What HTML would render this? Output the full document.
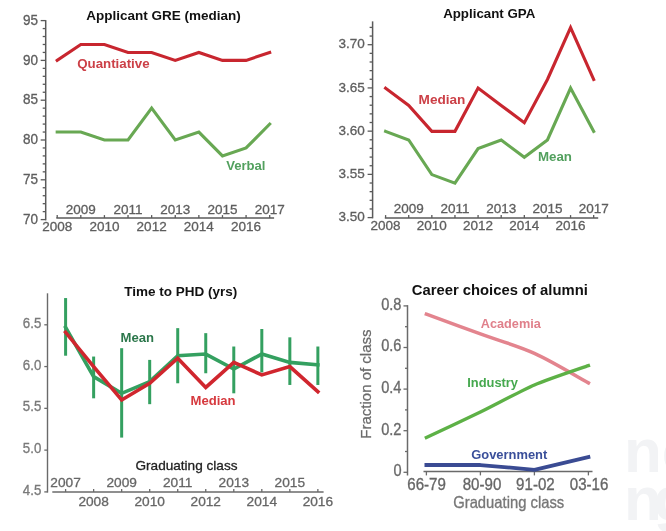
<!DOCTYPE html>
<html><head><meta charset="utf-8"><style>
html,body{margin:0;padding:0;background:#fff;}
svg{display:block;font-family:"Liberation Sans", sans-serif;will-change:transform;}
</style></head><body>
<svg width="666" height="531" viewBox="0 0 666 531">
<rect width="666" height="531" fill="#fff"/>
<line x1="45.70" y1="20.10" x2="45.70" y2="220.35" stroke="#5a5a5a" stroke-width="1.5" />
<line x1="40.70" y1="219.60" x2="45.70" y2="219.60" stroke="#5a5a5a" stroke-width="1.3" />
<text transform="translate(38.00,223.70) scale(1,1.07)" font-size="13.5" fill="#5e5e5e" font-weight="normal" text-anchor="end" stroke="#5e5e5e" stroke-width="0.3" >70</text>
<line x1="42.70" y1="211.64" x2="45.70" y2="211.64" stroke="#5a5a5a" stroke-width="1.3" />
<line x1="42.70" y1="203.68" x2="45.70" y2="203.68" stroke="#5a5a5a" stroke-width="1.3" />
<line x1="42.70" y1="195.72" x2="45.70" y2="195.72" stroke="#5a5a5a" stroke-width="1.3" />
<line x1="42.70" y1="187.76" x2="45.70" y2="187.76" stroke="#5a5a5a" stroke-width="1.3" />
<line x1="40.70" y1="179.80" x2="45.70" y2="179.80" stroke="#5a5a5a" stroke-width="1.3" />
<text transform="translate(38.00,183.90) scale(1,1.07)" font-size="13.5" fill="#5e5e5e" font-weight="normal" text-anchor="end" stroke="#5e5e5e" stroke-width="0.3" >75</text>
<line x1="42.70" y1="171.84" x2="45.70" y2="171.84" stroke="#5a5a5a" stroke-width="1.3" />
<line x1="42.70" y1="163.88" x2="45.70" y2="163.88" stroke="#5a5a5a" stroke-width="1.3" />
<line x1="42.70" y1="155.92" x2="45.70" y2="155.92" stroke="#5a5a5a" stroke-width="1.3" />
<line x1="42.70" y1="147.96" x2="45.70" y2="147.96" stroke="#5a5a5a" stroke-width="1.3" />
<line x1="40.70" y1="140.00" x2="45.70" y2="140.00" stroke="#5a5a5a" stroke-width="1.3" />
<text transform="translate(38.00,144.10) scale(1,1.07)" font-size="13.5" fill="#5e5e5e" font-weight="normal" text-anchor="end" stroke="#5e5e5e" stroke-width="0.3" >80</text>
<line x1="42.70" y1="132.04" x2="45.70" y2="132.04" stroke="#5a5a5a" stroke-width="1.3" />
<line x1="42.70" y1="124.08" x2="45.70" y2="124.08" stroke="#5a5a5a" stroke-width="1.3" />
<line x1="42.70" y1="116.12" x2="45.70" y2="116.12" stroke="#5a5a5a" stroke-width="1.3" />
<line x1="42.70" y1="108.16" x2="45.70" y2="108.16" stroke="#5a5a5a" stroke-width="1.3" />
<line x1="40.70" y1="100.20" x2="45.70" y2="100.20" stroke="#5a5a5a" stroke-width="1.3" />
<text transform="translate(38.00,104.30) scale(1,1.07)" font-size="13.5" fill="#5e5e5e" font-weight="normal" text-anchor="end" stroke="#5e5e5e" stroke-width="0.3" >85</text>
<line x1="42.70" y1="92.24" x2="45.70" y2="92.24" stroke="#5a5a5a" stroke-width="1.3" />
<line x1="42.70" y1="84.28" x2="45.70" y2="84.28" stroke="#5a5a5a" stroke-width="1.3" />
<line x1="42.70" y1="76.32" x2="45.70" y2="76.32" stroke="#5a5a5a" stroke-width="1.3" />
<line x1="42.70" y1="68.36" x2="45.70" y2="68.36" stroke="#5a5a5a" stroke-width="1.3" />
<line x1="40.70" y1="60.40" x2="45.70" y2="60.40" stroke="#5a5a5a" stroke-width="1.3" />
<text transform="translate(38.00,64.50) scale(1,1.07)" font-size="13.5" fill="#5e5e5e" font-weight="normal" text-anchor="end" stroke="#5e5e5e" stroke-width="0.3" >90</text>
<line x1="42.70" y1="52.44" x2="45.70" y2="52.44" stroke="#5a5a5a" stroke-width="1.3" />
<line x1="42.70" y1="44.48" x2="45.70" y2="44.48" stroke="#5a5a5a" stroke-width="1.3" />
<line x1="42.70" y1="36.52" x2="45.70" y2="36.52" stroke="#5a5a5a" stroke-width="1.3" />
<line x1="42.70" y1="28.56" x2="45.70" y2="28.56" stroke="#5a5a5a" stroke-width="1.3" />
<line x1="40.70" y1="20.60" x2="45.70" y2="20.60" stroke="#5a5a5a" stroke-width="1.3" />
<text transform="translate(38.00,24.70) scale(1,1.07)" font-size="13.5" fill="#5e5e5e" font-weight="normal" text-anchor="end" stroke="#5e5e5e" stroke-width="0.3" >95</text>
<line x1="56.30" y1="217.90" x2="274.10" y2="217.90" stroke="#5a5a5a" stroke-width="1.5" />
<line x1="57.20" y1="215.10" x2="57.20" y2="217.90" stroke="#5a5a5a" stroke-width="1.3" />
<text x="57.20" y="230.80" font-size="13.5" fill="#5e5e5e" font-weight="normal" text-anchor="middle" stroke="#5e5e5e" stroke-width="0.3" >2008</text>
<line x1="80.81" y1="215.10" x2="80.81" y2="217.90" stroke="#5a5a5a" stroke-width="1.3" />
<text x="80.81" y="213.60" font-size="13.5" fill="#5e5e5e" font-weight="normal" text-anchor="middle" stroke="#5e5e5e" stroke-width="0.3" >2009</text>
<line x1="104.42" y1="215.10" x2="104.42" y2="217.90" stroke="#5a5a5a" stroke-width="1.3" />
<text x="104.42" y="230.80" font-size="13.5" fill="#5e5e5e" font-weight="normal" text-anchor="middle" stroke="#5e5e5e" stroke-width="0.3" >2010</text>
<line x1="128.03" y1="215.10" x2="128.03" y2="217.90" stroke="#5a5a5a" stroke-width="1.3" />
<text x="128.03" y="213.60" font-size="13.5" fill="#5e5e5e" font-weight="normal" text-anchor="middle" stroke="#5e5e5e" stroke-width="0.3" >2011</text>
<line x1="151.64" y1="215.10" x2="151.64" y2="217.90" stroke="#5a5a5a" stroke-width="1.3" />
<text x="151.64" y="230.80" font-size="13.5" fill="#5e5e5e" font-weight="normal" text-anchor="middle" stroke="#5e5e5e" stroke-width="0.3" >2012</text>
<line x1="175.25" y1="215.10" x2="175.25" y2="217.90" stroke="#5a5a5a" stroke-width="1.3" />
<text x="175.25" y="213.60" font-size="13.5" fill="#5e5e5e" font-weight="normal" text-anchor="middle" stroke="#5e5e5e" stroke-width="0.3" >2013</text>
<line x1="198.86" y1="215.10" x2="198.86" y2="217.90" stroke="#5a5a5a" stroke-width="1.3" />
<text x="198.86" y="230.80" font-size="13.5" fill="#5e5e5e" font-weight="normal" text-anchor="middle" stroke="#5e5e5e" stroke-width="0.3" >2014</text>
<line x1="222.47" y1="215.10" x2="222.47" y2="217.90" stroke="#5a5a5a" stroke-width="1.3" />
<text x="222.47" y="213.60" font-size="13.5" fill="#5e5e5e" font-weight="normal" text-anchor="middle" stroke="#5e5e5e" stroke-width="0.3" >2015</text>
<line x1="246.08" y1="215.10" x2="246.08" y2="217.90" stroke="#5a5a5a" stroke-width="1.3" />
<text x="246.08" y="230.80" font-size="13.5" fill="#5e5e5e" font-weight="normal" text-anchor="middle" stroke="#5e5e5e" stroke-width="0.3" >2016</text>
<line x1="269.69" y1="215.10" x2="269.69" y2="217.90" stroke="#5a5a5a" stroke-width="1.3" />
<text x="269.69" y="213.60" font-size="13.5" fill="#5e5e5e" font-weight="normal" text-anchor="middle" stroke="#5e5e5e" stroke-width="0.3" >2017</text>
<polyline points="57.20,60.40 80.81,44.48 104.42,44.48 128.03,52.44 151.64,52.44 175.25,60.40 198.86,52.44 222.47,60.40 246.08,60.40 269.69,52.44" fill="none" stroke="#c8262f" stroke-width="3.1" stroke-linecap="square" stroke-linejoin="miter"/>
<polyline points="57.20,132.04 80.81,132.04 104.42,140.00 128.03,140.00 151.64,108.16 175.25,140.00 198.86,132.04 222.47,155.92 246.08,147.96 269.69,124.08" fill="none" stroke="#68a853" stroke-width="3.1" stroke-linecap="square" stroke-linejoin="miter"/>
<text x="77.20" y="67.60" font-size="13.3" fill="#cc4047" font-weight="bold" text-anchor="start" >Quantiative</text>
<text x="226.20" y="170.10" font-size="13.1" fill="#52a05e" font-weight="bold" text-anchor="start" >Verbal</text>
<text x="163.60" y="20.00" font-size="13.5" fill="#111" font-weight="bold" text-anchor="middle" >Applicant GRE (median)</text>
<line x1="372.60" y1="21.36" x2="372.60" y2="218.35" stroke="#5a5a5a" stroke-width="1.5" />
<line x1="367.60" y1="217.60" x2="372.60" y2="217.60" stroke="#5a5a5a" stroke-width="1.3" />
<text x="364.80" y="221.20" font-size="13.5" fill="#5e5e5e" font-weight="normal" text-anchor="end" stroke="#5e5e5e" stroke-width="0.3" >3.50</text>
<line x1="369.60" y1="208.96" x2="372.60" y2="208.96" stroke="#5a5a5a" stroke-width="1.3" />
<line x1="369.60" y1="200.31" x2="372.60" y2="200.31" stroke="#5a5a5a" stroke-width="1.3" />
<line x1="369.60" y1="191.67" x2="372.60" y2="191.67" stroke="#5a5a5a" stroke-width="1.3" />
<line x1="369.60" y1="183.02" x2="372.60" y2="183.02" stroke="#5a5a5a" stroke-width="1.3" />
<line x1="367.60" y1="174.38" x2="372.60" y2="174.38" stroke="#5a5a5a" stroke-width="1.3" />
<text x="364.80" y="177.98" font-size="13.5" fill="#5e5e5e" font-weight="normal" text-anchor="end" stroke="#5e5e5e" stroke-width="0.3" >3.55</text>
<line x1="369.60" y1="165.73" x2="372.60" y2="165.73" stroke="#5a5a5a" stroke-width="1.3" />
<line x1="369.60" y1="157.09" x2="372.60" y2="157.09" stroke="#5a5a5a" stroke-width="1.3" />
<line x1="369.60" y1="148.44" x2="372.60" y2="148.44" stroke="#5a5a5a" stroke-width="1.3" />
<line x1="369.60" y1="139.80" x2="372.60" y2="139.80" stroke="#5a5a5a" stroke-width="1.3" />
<line x1="367.60" y1="131.15" x2="372.60" y2="131.15" stroke="#5a5a5a" stroke-width="1.3" />
<text x="364.80" y="134.75" font-size="13.5" fill="#5e5e5e" font-weight="normal" text-anchor="end" stroke="#5e5e5e" stroke-width="0.3" >3.60</text>
<line x1="369.60" y1="122.51" x2="372.60" y2="122.51" stroke="#5a5a5a" stroke-width="1.3" />
<line x1="369.60" y1="113.86" x2="372.60" y2="113.86" stroke="#5a5a5a" stroke-width="1.3" />
<line x1="369.60" y1="105.22" x2="372.60" y2="105.22" stroke="#5a5a5a" stroke-width="1.3" />
<line x1="369.60" y1="96.57" x2="372.60" y2="96.57" stroke="#5a5a5a" stroke-width="1.3" />
<line x1="367.60" y1="87.93" x2="372.60" y2="87.93" stroke="#5a5a5a" stroke-width="1.3" />
<text x="364.80" y="91.53" font-size="13.5" fill="#5e5e5e" font-weight="normal" text-anchor="end" stroke="#5e5e5e" stroke-width="0.3" >3.65</text>
<line x1="369.60" y1="79.28" x2="372.60" y2="79.28" stroke="#5a5a5a" stroke-width="1.3" />
<line x1="369.60" y1="70.64" x2="372.60" y2="70.64" stroke="#5a5a5a" stroke-width="1.3" />
<line x1="369.60" y1="61.99" x2="372.60" y2="61.99" stroke="#5a5a5a" stroke-width="1.3" />
<line x1="369.60" y1="53.35" x2="372.60" y2="53.35" stroke="#5a5a5a" stroke-width="1.3" />
<line x1="367.60" y1="44.70" x2="372.60" y2="44.70" stroke="#5a5a5a" stroke-width="1.3" />
<text x="364.80" y="48.30" font-size="13.5" fill="#5e5e5e" font-weight="normal" text-anchor="end" stroke="#5e5e5e" stroke-width="0.3" >3.70</text>
<line x1="369.60" y1="36.06" x2="372.60" y2="36.06" stroke="#5a5a5a" stroke-width="1.3" />
<line x1="369.60" y1="27.41" x2="372.60" y2="27.41" stroke="#5a5a5a" stroke-width="1.3" />
<line x1="384.80" y1="217.90" x2="598.20" y2="217.90" stroke="#5a5a5a" stroke-width="1.5" />
<line x1="385.60" y1="215.10" x2="385.60" y2="217.90" stroke="#5a5a5a" stroke-width="1.3" />
<text x="385.60" y="230.20" font-size="13.5" fill="#5e5e5e" font-weight="normal" text-anchor="middle" stroke="#5e5e5e" stroke-width="0.3" >2008</text>
<line x1="408.72" y1="215.10" x2="408.72" y2="217.90" stroke="#5a5a5a" stroke-width="1.3" />
<text x="408.72" y="213.20" font-size="13.5" fill="#5e5e5e" font-weight="normal" text-anchor="middle" stroke="#5e5e5e" stroke-width="0.3" >2009</text>
<line x1="431.84" y1="215.10" x2="431.84" y2="217.90" stroke="#5a5a5a" stroke-width="1.3" />
<text x="431.84" y="230.20" font-size="13.5" fill="#5e5e5e" font-weight="normal" text-anchor="middle" stroke="#5e5e5e" stroke-width="0.3" >2010</text>
<line x1="454.96" y1="215.10" x2="454.96" y2="217.90" stroke="#5a5a5a" stroke-width="1.3" />
<text x="454.96" y="213.20" font-size="13.5" fill="#5e5e5e" font-weight="normal" text-anchor="middle" stroke="#5e5e5e" stroke-width="0.3" >2011</text>
<line x1="478.08" y1="215.10" x2="478.08" y2="217.90" stroke="#5a5a5a" stroke-width="1.3" />
<text x="478.08" y="230.20" font-size="13.5" fill="#5e5e5e" font-weight="normal" text-anchor="middle" stroke="#5e5e5e" stroke-width="0.3" >2012</text>
<line x1="501.20" y1="215.10" x2="501.20" y2="217.90" stroke="#5a5a5a" stroke-width="1.3" />
<text x="501.20" y="213.20" font-size="13.5" fill="#5e5e5e" font-weight="normal" text-anchor="middle" stroke="#5e5e5e" stroke-width="0.3" >2013</text>
<line x1="524.32" y1="215.10" x2="524.32" y2="217.90" stroke="#5a5a5a" stroke-width="1.3" />
<text x="524.32" y="230.20" font-size="13.5" fill="#5e5e5e" font-weight="normal" text-anchor="middle" stroke="#5e5e5e" stroke-width="0.3" >2014</text>
<line x1="547.44" y1="215.10" x2="547.44" y2="217.90" stroke="#5a5a5a" stroke-width="1.3" />
<text x="547.44" y="213.20" font-size="13.5" fill="#5e5e5e" font-weight="normal" text-anchor="middle" stroke="#5e5e5e" stroke-width="0.3" >2015</text>
<line x1="570.56" y1="215.10" x2="570.56" y2="217.90" stroke="#5a5a5a" stroke-width="1.3" />
<text x="570.56" y="230.20" font-size="13.5" fill="#5e5e5e" font-weight="normal" text-anchor="middle" stroke="#5e5e5e" stroke-width="0.3" >2016</text>
<line x1="593.68" y1="215.10" x2="593.68" y2="217.90" stroke="#5a5a5a" stroke-width="1.3" />
<text x="593.68" y="213.20" font-size="13.5" fill="#5e5e5e" font-weight="normal" text-anchor="middle" stroke="#5e5e5e" stroke-width="0.3" >2017</text>
<polyline points="385.60,88.13 408.72,105.42 431.84,131.35 454.96,131.35 478.08,88.13 501.20,105.42 524.32,122.71 547.44,79.48 570.56,27.61 593.68,79.48" fill="none" stroke="#c8262f" stroke-width="3.1" stroke-linecap="square" stroke-linejoin="miter"/>
<polyline points="385.60,131.35 408.72,140.00 431.84,174.58 454.96,183.22 478.08,148.64 501.20,140.00 524.32,157.29 547.44,140.00 570.56,88.13 593.68,131.35" fill="none" stroke="#68a853" stroke-width="3.1" stroke-linecap="square" stroke-linejoin="miter"/>
<text x="418.60" y="104.00" font-size="13.6" fill="#cc4047" font-weight="bold" text-anchor="start" >Median</text>
<text x="538.00" y="161.00" font-size="13.3" fill="#52a05e" font-weight="bold" text-anchor="start" >Mean</text>
<text x="489.20" y="18.00" font-size="13.3" fill="#111" font-weight="bold" text-anchor="middle" >Applicant GPA</text>
<line x1="47.50" y1="293.30" x2="47.50" y2="492.60" stroke="#6a6a6a" stroke-width="1.4" />
<line x1="44.30" y1="491.90" x2="47.50" y2="491.90" stroke="#6a6a6a" stroke-width="1.3" />
<text transform="translate(41.30,494.90) scale(1,1.15)" font-size="13.3" fill="#7a7a7a" font-weight="normal" text-anchor="end" stroke="#7a7a7a" stroke-width="0.3" >4.5</text>
<line x1="44.30" y1="450.12" x2="47.50" y2="450.12" stroke="#6a6a6a" stroke-width="1.3" />
<text transform="translate(41.30,453.12) scale(1,1.15)" font-size="13.3" fill="#7a7a7a" font-weight="normal" text-anchor="end" stroke="#7a7a7a" stroke-width="0.3" >5.0</text>
<line x1="44.30" y1="408.35" x2="47.50" y2="408.35" stroke="#6a6a6a" stroke-width="1.3" />
<text transform="translate(41.30,411.35) scale(1,1.15)" font-size="13.3" fill="#7a7a7a" font-weight="normal" text-anchor="end" stroke="#7a7a7a" stroke-width="0.3" >5.5</text>
<line x1="44.30" y1="366.57" x2="47.50" y2="366.57" stroke="#6a6a6a" stroke-width="1.3" />
<text transform="translate(41.30,369.57) scale(1,1.15)" font-size="13.3" fill="#7a7a7a" font-weight="normal" text-anchor="end" stroke="#7a7a7a" stroke-width="0.3" >6.0</text>
<line x1="44.30" y1="324.80" x2="47.50" y2="324.80" stroke="#6a6a6a" stroke-width="1.3" />
<text transform="translate(41.30,327.80) scale(1,1.15)" font-size="13.3" fill="#7a7a7a" font-weight="normal" text-anchor="end" stroke="#7a7a7a" stroke-width="0.3" >6.5</text>
<line x1="52.30" y1="492.00" x2="323.60" y2="492.00" stroke="#6a6a6a" stroke-width="1.4" />
<line x1="65.60" y1="489.00" x2="65.60" y2="492.00" stroke="#6a6a6a" stroke-width="1.3" />
<text x="65.60" y="486.80" font-size="13.7" fill="#666" font-weight="normal" text-anchor="middle" stroke="#666" stroke-width="0.3" >2007</text>
<line x1="93.63" y1="489.00" x2="93.63" y2="492.00" stroke="#6a6a6a" stroke-width="1.3" />
<text x="93.63" y="506.40" font-size="13.7" fill="#666" font-weight="normal" text-anchor="middle" stroke="#666" stroke-width="0.3" >2008</text>
<line x1="121.66" y1="489.00" x2="121.66" y2="492.00" stroke="#6a6a6a" stroke-width="1.3" />
<text x="121.66" y="486.80" font-size="13.7" fill="#666" font-weight="normal" text-anchor="middle" stroke="#666" stroke-width="0.3" >2009</text>
<line x1="149.69" y1="489.00" x2="149.69" y2="492.00" stroke="#6a6a6a" stroke-width="1.3" />
<text x="149.69" y="506.40" font-size="13.7" fill="#666" font-weight="normal" text-anchor="middle" stroke="#666" stroke-width="0.3" >2010</text>
<line x1="177.72" y1="489.00" x2="177.72" y2="492.00" stroke="#6a6a6a" stroke-width="1.3" />
<text x="177.72" y="486.80" font-size="13.7" fill="#666" font-weight="normal" text-anchor="middle" stroke="#666" stroke-width="0.3" >2011</text>
<line x1="205.75" y1="489.00" x2="205.75" y2="492.00" stroke="#6a6a6a" stroke-width="1.3" />
<text x="205.75" y="506.40" font-size="13.7" fill="#666" font-weight="normal" text-anchor="middle" stroke="#666" stroke-width="0.3" >2012</text>
<line x1="233.78" y1="489.00" x2="233.78" y2="492.00" stroke="#6a6a6a" stroke-width="1.3" />
<text x="233.78" y="486.80" font-size="13.7" fill="#666" font-weight="normal" text-anchor="middle" stroke="#666" stroke-width="0.3" >2013</text>
<line x1="261.81" y1="489.00" x2="261.81" y2="492.00" stroke="#6a6a6a" stroke-width="1.3" />
<text x="261.81" y="506.40" font-size="13.7" fill="#666" font-weight="normal" text-anchor="middle" stroke="#666" stroke-width="0.3" >2014</text>
<line x1="289.84" y1="489.00" x2="289.84" y2="492.00" stroke="#6a6a6a" stroke-width="1.3" />
<text x="289.84" y="486.80" font-size="13.7" fill="#666" font-weight="normal" text-anchor="middle" stroke="#666" stroke-width="0.3" >2015</text>
<line x1="317.87" y1="489.00" x2="317.87" y2="492.00" stroke="#6a6a6a" stroke-width="1.3" />
<text x="317.87" y="506.40" font-size="13.7" fill="#666" font-weight="normal" text-anchor="middle" stroke="#666" stroke-width="0.3" >2016</text>
<text x="186.50" y="469.60" font-size="13.6" fill="#222" font-weight="normal" text-anchor="middle" stroke="#222" stroke-width="0.3" >Graduating class</text>
<line x1="65.60" y1="298.06" x2="65.60" y2="355.71" stroke="#34a060" stroke-width="3.0" />
<line x1="93.63" y1="356.55" x2="93.63" y2="398.32" stroke="#34a060" stroke-width="3.0" />
<line x1="121.66" y1="348.19" x2="121.66" y2="437.59" stroke="#34a060" stroke-width="3.0" />
<line x1="149.69" y1="359.89" x2="149.69" y2="404.17" stroke="#34a060" stroke-width="3.0" />
<line x1="177.72" y1="328.14" x2="177.72" y2="383.28" stroke="#34a060" stroke-width="3.0" />
<line x1="205.75" y1="333.15" x2="205.75" y2="373.26" stroke="#34a060" stroke-width="3.0" />
<line x1="233.78" y1="346.52" x2="233.78" y2="393.31" stroke="#34a060" stroke-width="3.0" />
<line x1="261.81" y1="328.98" x2="261.81" y2="372.42" stroke="#34a060" stroke-width="3.0" />
<line x1="289.84" y1="337.33" x2="289.84" y2="384.96" stroke="#34a060" stroke-width="3.0" />
<line x1="317.87" y1="346.52" x2="317.87" y2="384.96" stroke="#34a060" stroke-width="3.0" />
<polyline points="65.60,327.31 93.63,376.60 121.66,393.31 149.69,381.61 177.72,355.71 205.75,354.04 233.78,369.08 261.81,354.04 289.84,362.40 317.87,364.90" fill="none" stroke="#34a060" stroke-width="3.6" stroke-linecap="square" stroke-linejoin="miter"/>
<polyline points="65.60,332.32 93.63,366.57 121.66,400.00 149.69,383.28 177.72,358.22 205.75,387.46 233.78,362.40 261.81,374.93 289.84,366.57 317.87,391.64" fill="none" stroke="#d0262e" stroke-width="3.6" stroke-linecap="square" stroke-linejoin="miter"/>
<text x="120.60" y="341.70" font-size="13.1" fill="#2c774b" font-weight="bold" text-anchor="start" >Mean</text>
<text x="190.50" y="405.00" font-size="13.1" fill="#d6393e" font-weight="bold" text-anchor="start" >Median</text>
<text x="180.70" y="296.00" font-size="13.5" fill="#111" font-weight="bold" text-anchor="middle" >Time to PHD (yrs)</text>
<line x1="407.50" y1="305.15" x2="407.50" y2="475.50" stroke="#6a6a6a" stroke-width="1.5" />
<line x1="403.50" y1="472.30" x2="407.50" y2="472.30" stroke="#6a6a6a" stroke-width="1.3" />
<text transform="translate(401.50,476.10) scale(1,1.12)" font-size="14.6" fill="#6a6a6a" font-weight="normal" text-anchor="end" stroke="#6a6a6a" stroke-width="0.3" >0</text>
<line x1="405.00" y1="451.50" x2="407.50" y2="451.50" stroke="#6a6a6a" stroke-width="1.3" />
<line x1="403.50" y1="430.70" x2="407.50" y2="430.70" stroke="#6a6a6a" stroke-width="1.3" />
<text transform="translate(401.50,434.50) scale(1,1.12)" font-size="14.6" fill="#6a6a6a" font-weight="normal" text-anchor="end" stroke="#6a6a6a" stroke-width="0.3" >0.2</text>
<line x1="405.00" y1="409.90" x2="407.50" y2="409.90" stroke="#6a6a6a" stroke-width="1.3" />
<line x1="403.50" y1="389.10" x2="407.50" y2="389.10" stroke="#6a6a6a" stroke-width="1.3" />
<text transform="translate(401.50,392.90) scale(1,1.12)" font-size="14.6" fill="#6a6a6a" font-weight="normal" text-anchor="end" stroke="#6a6a6a" stroke-width="0.3" >0.4</text>
<line x1="405.00" y1="368.30" x2="407.50" y2="368.30" stroke="#6a6a6a" stroke-width="1.3" />
<line x1="403.50" y1="347.50" x2="407.50" y2="347.50" stroke="#6a6a6a" stroke-width="1.3" />
<text transform="translate(401.50,351.30) scale(1,1.12)" font-size="14.6" fill="#6a6a6a" font-weight="normal" text-anchor="end" stroke="#6a6a6a" stroke-width="0.3" >0.6</text>
<line x1="405.00" y1="326.70" x2="407.50" y2="326.70" stroke="#6a6a6a" stroke-width="1.3" />
<line x1="403.50" y1="305.90" x2="407.50" y2="305.90" stroke="#6a6a6a" stroke-width="1.3" />
<text transform="translate(401.50,309.70) scale(1,1.12)" font-size="14.6" fill="#6a6a6a" font-weight="normal" text-anchor="end" stroke="#6a6a6a" stroke-width="0.3" >0.8</text>
<line x1="423.50" y1="471.40" x2="592.50" y2="471.40" stroke="#6a6a6a" stroke-width="1.5" />
<line x1="426.40" y1="471.40" x2="426.40" y2="475.40" stroke="#6a6a6a" stroke-width="1.3" />
<text transform="translate(426.60,490.00) scale(1,1.1)" font-size="15.1" fill="#666" font-weight="normal" text-anchor="middle" stroke="#666" stroke-width="0.3" >66-79</text>
<line x1="480.40" y1="471.40" x2="480.40" y2="475.40" stroke="#6a6a6a" stroke-width="1.3" />
<text transform="translate(482.00,490.00) scale(1,1.1)" font-size="15.1" fill="#666" font-weight="normal" text-anchor="middle" stroke="#666" stroke-width="0.3" >80-90</text>
<line x1="534.40" y1="471.40" x2="534.40" y2="475.40" stroke="#6a6a6a" stroke-width="1.3" />
<text transform="translate(535.40,490.00) scale(1,1.1)" font-size="15.1" fill="#666" font-weight="normal" text-anchor="middle" stroke="#666" stroke-width="0.3" >91-02</text>
<line x1="588.40" y1="471.40" x2="588.40" y2="475.40" stroke="#6a6a6a" stroke-width="1.3" />
<text transform="translate(589.10,490.00) scale(1,1.1)" font-size="15.1" fill="#666" font-weight="normal" text-anchor="middle" stroke="#666" stroke-width="0.3" >03-16</text>
<text transform="translate(508.70,508.00) scale(1,1.1)" font-size="14.8" fill="#777" font-weight="normal" text-anchor="middle" stroke="#777" stroke-width="0.3" >Graduating class</text>
<text transform="translate(371.4,384.1) rotate(-90)" font-size="15" fill="#6a6a6a" stroke="#6a6a6a" stroke-width="0.25" text-anchor="middle">Fraction of class</text>
<path d="M426.40,314.22 C435.40,317.51 462.40,327.46 480.40,333.98 C498.40,340.50 516.40,345.18 534.40,353.32 C552.40,361.47 579.40,377.94 588.40,382.86" fill="none" stroke="#e3848e" stroke-width="3.5" stroke-linecap="square"/>
<path d="M426.40,437.56 C432.70,434.58 467.80,418.12 480.40,411.98 C493.00,405.84 521.80,390.35 534.40,384.94 C547.00,379.53 582.10,367.85 588.40,365.60" fill="none" stroke="#5db146" stroke-width="3.4" stroke-linecap="square"/>
<polyline points="426.40,465.02 480.40,465.02 534.40,469.80 588.40,457.12" fill="none" stroke="#3a4b93" stroke-width="3.8" stroke-linecap="square" stroke-linejoin="round"/>
<text x="480.80" y="327.80" font-size="12.7" fill="#e0808b" font-weight="bold" text-anchor="start" >Academia</text>
<text x="467.20" y="387.00" font-size="12.9" fill="#45a84e" font-weight="bold" text-anchor="start" >Industry</text>
<text x="471.30" y="458.50" font-size="12.9" fill="#3a4f9a" font-weight="bold" text-anchor="start" >Government</text>
<text transform="translate(499.80,295.00) scale(1,1.0)" font-size="14.8" fill="#111" font-weight="bold" text-anchor="middle" >Career choices of alumni</text>
<text x="623.90" y="472.30" font-size="62" fill="#f2f3f5" font-weight="bold" text-anchor="start" >ne</text>
<text x="623.90" y="520.40" font-size="62" fill="#f2f3f5" font-weight="bold" text-anchor="start" letter-spacing="-8">ng</text>
</svg>
</body></html>
